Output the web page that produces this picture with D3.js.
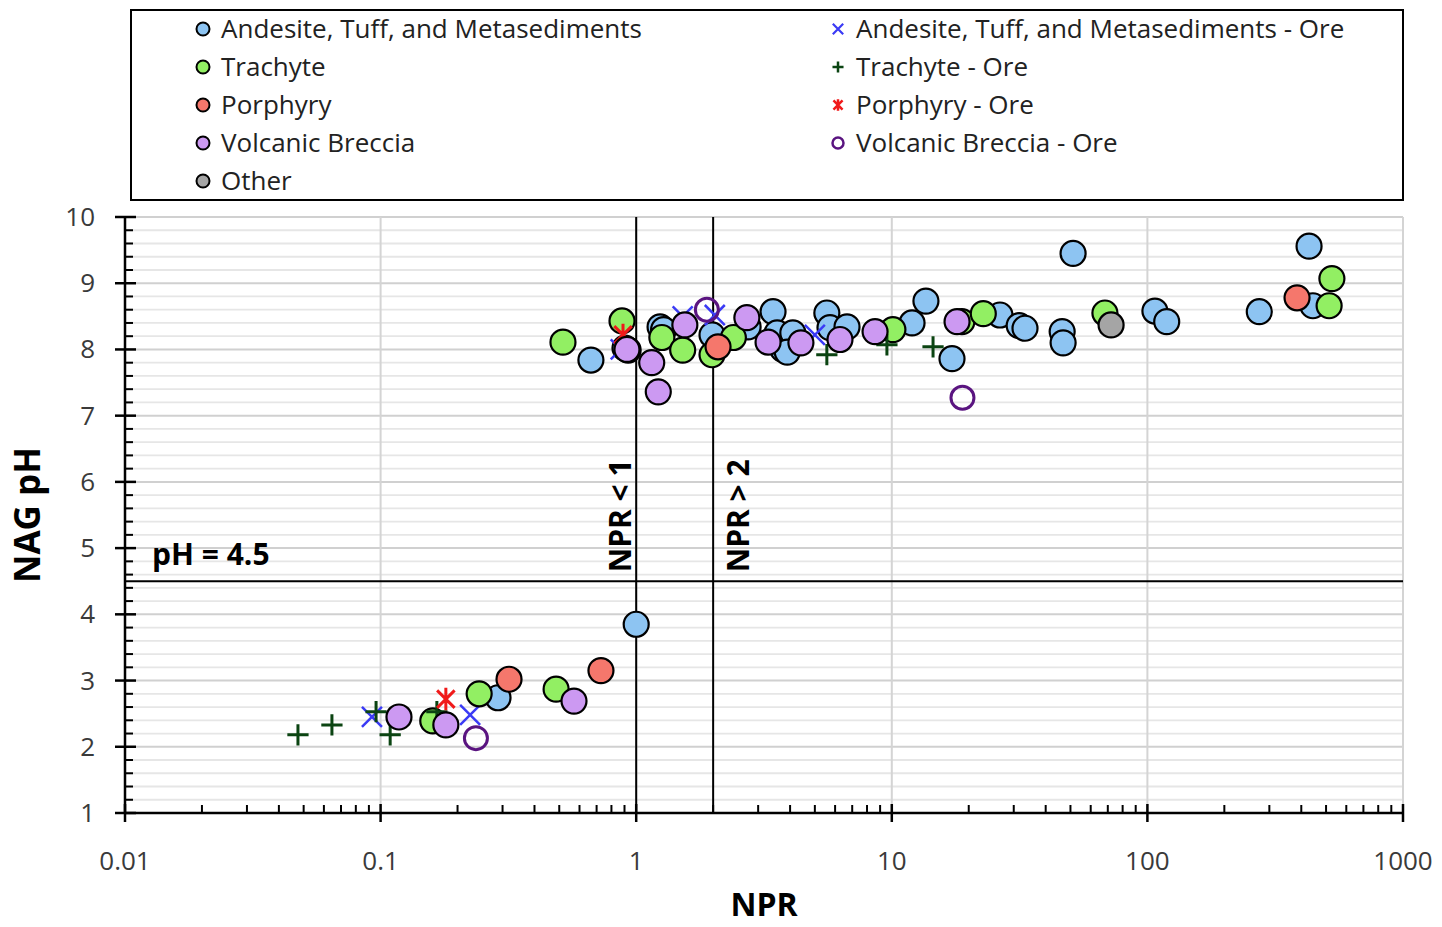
<!DOCTYPE html>
<html>
<head>
<meta charset="utf-8">
<script src="https://cdn.jsdelivr.net/npm/d3@7"></script>
<style>
  html, body { margin: 0; padding: 0; background: #fff; }
  svg { display: block; font-family: "Open Sans", "Noto Sans", sans-serif; }
</style>
</head>
<body>
<svg id="chart" width="1442" height="927"></svg>
<script>
// ---- Data ----
const andesiteX = [0.665, 0.904, 0.93, 1.24, 1.28, 1.98, 3.43, 2.74, 3.56, 3.75, 4.1, 3.9, 5.57, 5.73, 6.68, 12.0, 13.6, 17.2, 26.5, 31.5, 33.2, 46.4, 46.8, 51.2, 107, 119, 274, 429, 444, 1.0, 0.288];
const andesiteY = [7.84, 8.02, 7.99, 8.34, 8.30, 8.22, 8.57, 8.34, 8.25, 8.00, 8.25, 7.96, 8.55, 8.33, 8.34, 8.40, 8.73, 7.86, 8.52, 8.36, 8.32, 8.27, 8.10, 9.45, 8.58, 8.42, 8.57, 9.56, 8.66, 3.85, 2.74];

const andesiteOreX = [0.0925, 0.224, 0.87, 1.52, 2.03, 5.0];
const andesiteOreY = [2.45, 2.48, 8.00, 8.50, 8.52, 8.22];

const trachyteX = [0.517, 0.88, 1.26, 1.52, 1.98, 2.40, 10.1, 18.8, 22.8, 68.2, 527, 514, 0.160, 0.243, 0.486];
const trachyteY = [8.11, 8.43, 8.18, 7.99, 7.92, 8.18, 8.30, 8.42, 8.54, 8.55, 9.07, 8.66, 2.39, 2.80, 2.87];

const trachyteOreX = [0.0475, 0.0645, 0.096, 0.109, 0.166, 9.57, 14.5, 5.57];
const trachyteOreY = [2.18, 2.33, 2.53, 2.18, 2.53, 8.07, 8.04, 7.92];

const porphyryX = [2.09, 385, 0.318, 0.728];
const porphyryY = [8.04, 8.78, 3.02, 3.15];

const porphyryOreX = [0.180, 0.888];
const porphyryOreY = [2.72, 8.22];

const brecciaX = [0.92, 1.15, 1.22, 1.55, 2.71, 3.28, 4.41, 6.27, 8.6, 18.0, 0.118, 0.180, 0.571];
const brecciaY = [8.00, 7.80, 7.36, 8.37, 8.48, 8.11, 8.10, 8.15, 8.27, 8.42, 2.45, 2.33, 2.69];

const brecciaOreX = [0.236, 1.89, 18.9];
const brecciaOreY = [2.13, 8.60, 7.27];

const otherX = [72.1];
const otherY = [8.37];

const xTickValues = [0.01, 0.1, 1, 10, 100, 1000];
const xTickLabels = ["0.01", "0.1", "1", "10", "100", "1000"];
const yTickValues = [1, 2, 3, 4, 5, 6, 7, 8, 9, 10];

const seriesNames = [
  "Andesite, Tuff, and Metasediments", "Andesite, Tuff, and Metasediments - Ore",
  "Trachyte", "Trachyte - Ore",
  "Porphyry", "Porphyry - Ore",
  "Volcanic Breccia", "Volcanic Breccia - Ore",
  "Other"
];

(function () {
// ---- Build series ----
const zip = (xs, ys) => xs.map((v, i) => ({x: v, y: ys[i]}));
const series = [
  {name: seriesNames[0], type: "circle", fill: "#8DC4F2", data: zip(andesiteX, andesiteY)},
  {name: seriesNames[1], type: "x", color: "#3A3AF5", data: zip(andesiteOreX, andesiteOreY)},
  {name: seriesNames[2], type: "circle", fill: "#92EF63", data: zip(trachyteX, trachyteY)},
  {name: seriesNames[3], type: "plus", color: "#0B4412", data: zip(trachyteOreX, trachyteOreY)},
  {name: seriesNames[4], type: "circle", fill: "#F5776C", data: zip(porphyryX, porphyryY)},
  {name: seriesNames[5], type: "star", color: "#F01A1A", data: zip(porphyryOreX, porphyryOreY)},
  {name: seriesNames[6], type: "circle", fill: "#CC99F2", data: zip(brecciaX, brecciaY)},
  {name: seriesNames[7], type: "open", color: "#5A1480", data: zip(brecciaOreX, brecciaOreY)},
  {name: seriesNames[8], type: "circle", fill: "#A5A5A5", data: zip(otherX, otherY)}
];

// ---- Layout ----
const svg = d3.select("#chart");
const pL = 125, pR = 1403, pT = 217, pB = 813;
const x = d3.scaleLog().domain([0.01, 1000]).range([pL, pR]);
const y = d3.scaleLinear().domain([1, 10]).range([pB, pT]);

// Gridlines
const g = svg.append("g");
const minorY = d3.range(1, 10.001, 0.2).map(v => +v.toFixed(1));
g.selectAll("line.hgrid").data(minorY).enter().append("line")
  .attr("x1", pL).attr("x2", pR)
  .attr("y1", d => y(d)).attr("y2", d => y(d))
  .attr("stroke", d => Number.isInteger(d) ? "#d0d0d0" : "#e6e6e6")
  .attr("stroke-width", d => Number.isInteger(d) ? 2 : 1.8);
g.selectAll("line.vgrid").data(xTickValues).enter().append("line")
  .attr("x1", d => x(d)).attr("x2", d => x(d))
  .attr("y1", pT).attr("y2", pB)
  .attr("stroke", "#d4d4d4").attr("stroke-width", 2);

// Reference lines
svg.append("line").attr("x1", x(1)).attr("x2", x(1)).attr("y1", pT).attr("y2", pB)
  .attr("stroke", "#000").attr("stroke-width", 2);
svg.append("line").attr("x1", x(2)).attr("x2", x(2)).attr("y1", pT).attr("y2", pB)
  .attr("stroke", "#000").attr("stroke-width", 2);
svg.append("line").attr("x1", pL).attr("x2", pR).attr("y1", y(4.5)).attr("y2", y(4.5))
  .attr("stroke", "#000").attr("stroke-width", 2);

// Annotations
svg.append("text").attr("x", 152).attr("y", y(4.5) - 16)
  .attr("font-size", 30).attr("font-weight", "bold").attr("fill", "#000").text("pH = 4.5");
svg.append("text").attr("transform", `translate(${x(1) - 5},${y(4.5) - 9}) rotate(-90)`)
  .attr("font-size", 30).attr("font-weight", "bold").attr("fill", "#000").text("NPR < 1");
svg.append("text").attr("transform", `translate(${x(2) + 36},${y(4.5) - 9}) rotate(-90)`)
  .attr("font-size", 30).attr("font-weight", "bold").attr("fill", "#000").text("NPR > 2");

// Axes
const xMinor = [];
for (let e = -2; e < 3; e++) for (let k = 2; k <= 9; k++) xMinor.push(k * Math.pow(10, e));
const axisG = svg.append("g");
axisG.append("line").attr("x1", pL).attr("x2", pR).attr("y1", pB).attr("y2", pB)
  .attr("stroke", "#000").attr("stroke-width", 2.5);
axisG.append("line").attr("x1", pL).attr("x2", pL).attr("y1", pT).attr("y2", pB)
  .attr("stroke", "#000").attr("stroke-width", 2.5);
axisG.selectAll("line.xmaj").data(xTickValues).enter().append("line")
  .attr("x1", d => x(d)).attr("x2", d => x(d)).attr("y1", pB - 9).attr("y2", pB + 9)
  .attr("stroke", "#000").attr("stroke-width", 2.5);
axisG.selectAll("line.xmin").data(xMinor).enter().append("line")
  .attr("x1", d => x(d)).attr("x2", d => x(d)).attr("y1", pB - 8).attr("y2", pB)
  .attr("stroke", "#000").attr("stroke-width", 2);
axisG.selectAll("line.ymaj").data(yTickValues).enter().append("line")
  .attr("x1", pL - 10).attr("x2", pL + 11).attr("y1", d => y(d)).attr("y2", d => y(d))
  .attr("stroke", "#000").attr("stroke-width", 2.5);
axisG.selectAll("line.ymin").data(minorY.filter(v => !Number.isInteger(v))).enter().append("line")
  .attr("x1", pL).attr("x2", pL + 8).attr("y1", d => y(d)).attr("y2", d => y(d))
  .attr("stroke", "#000").attr("stroke-width", 2);

axisG.selectAll("text.xl").data(xTickValues).enter().append("text")
  .attr("x", d => x(d)).attr("y", 870).attr("text-anchor", "middle")
  .attr("font-size", 26).attr("fill", "#3a3a3a").text((d, i) => xTickLabels[i]);
axisG.selectAll("text.yl").data(yTickValues).enter().append("text")
  .attr("x", 95).attr("y", d => y(d) + 9).attr("text-anchor", "end")
  .attr("font-size", 26).attr("fill", "#3a3a3a").text(d => d);

svg.append("text").attr("x", 764).attr("y", 916).attr("text-anchor", "middle")
  .attr("font-size", 32).attr("font-weight", "bold").attr("fill", "#000").text("NPR");
svg.append("text").attr("transform", `translate(40,${(pT + pB) / 2}) rotate(-90)`)
  .attr("text-anchor", "middle").attr("font-size", 35).attr("font-weight", "bold")
  .attr("fill", "#000").text("NAG pH");

// Marker drawing
function drawMarker(sel, s, size) {
  const h = size / 2;
  if (s.type === "circle") {
    sel.append("circle").attr("r", h).attr("fill", s.fill).attr("stroke", "#000")
      .attr("stroke-width", size > 16 ? 2.2 : 2);
  } else if (s.type === "open") {
    sel.append("circle").attr("r", h - 1).attr("fill", "none").attr("stroke", s.color)
      .attr("stroke-width", size > 16 ? 3 : 2.5);
  } else if (s.type === "x") {
    const a = h * 0.8;
    sel.append("path").attr("d", `M${-a},${-a}L${a},${a}M${-a},${a}L${a},${-a}`)
      .attr("stroke", s.color).attr("stroke-width", size > 16 ? 2.5 : 2.2).attr("fill", "none");
  } else if (s.type === "plus") {
    const a = h * 0.85;
    sel.append("path").attr("d", `M${-a},0L${a},0M0,${-a}L0,${a}`)
      .attr("stroke", s.color).attr("stroke-width", size > 16 ? 3 : 2.5).attr("fill", "none");
  } else if (s.type === "star") {
    const a = h * 0.7, b = h * 0.9;
    sel.append("path").attr("d", `M${-a},${-a}L${a},${a}M${-a},${a}L${a},${-a}M0,${-b}L0,${b}`)
      .attr("stroke", s.color).attr("stroke-width", size > 16 ? 3 : 2.5).attr("fill", "none");
  }
}

// Points
const pts = svg.append("g");
series.forEach(s => {
  const sg = pts.append("g");
  s.data.forEach(d => {
    const m = sg.append("g").attr("transform", `translate(${x(d.x)},${y(d.y)})`);
    drawMarker(m, s, 25);
  });
});

// Legend
const leg = svg.append("g");
leg.append("rect").attr("x", 131).attr("y", 10).attr("width", 1272).attr("height", 190)
  .attr("fill", "#fff").attr("stroke", "#000").attr("stroke-width", 2);
series.forEach((s, i) => {
  const col = i % 2, row = Math.floor(i / 2);
  const mx = col === 0 ? 203 : 838;
  const my = 29 + row * 38;
  const m = leg.append("g").attr("transform", `translate(${mx},${my})`);
  drawMarker(m, s, 13);
  leg.append("text").attr("x", mx + 18).attr("y", my + 9).attr("font-size", 26)
    .attr("fill", "#222").text(s.name);
});
})();
</script>
</body>
</html>
